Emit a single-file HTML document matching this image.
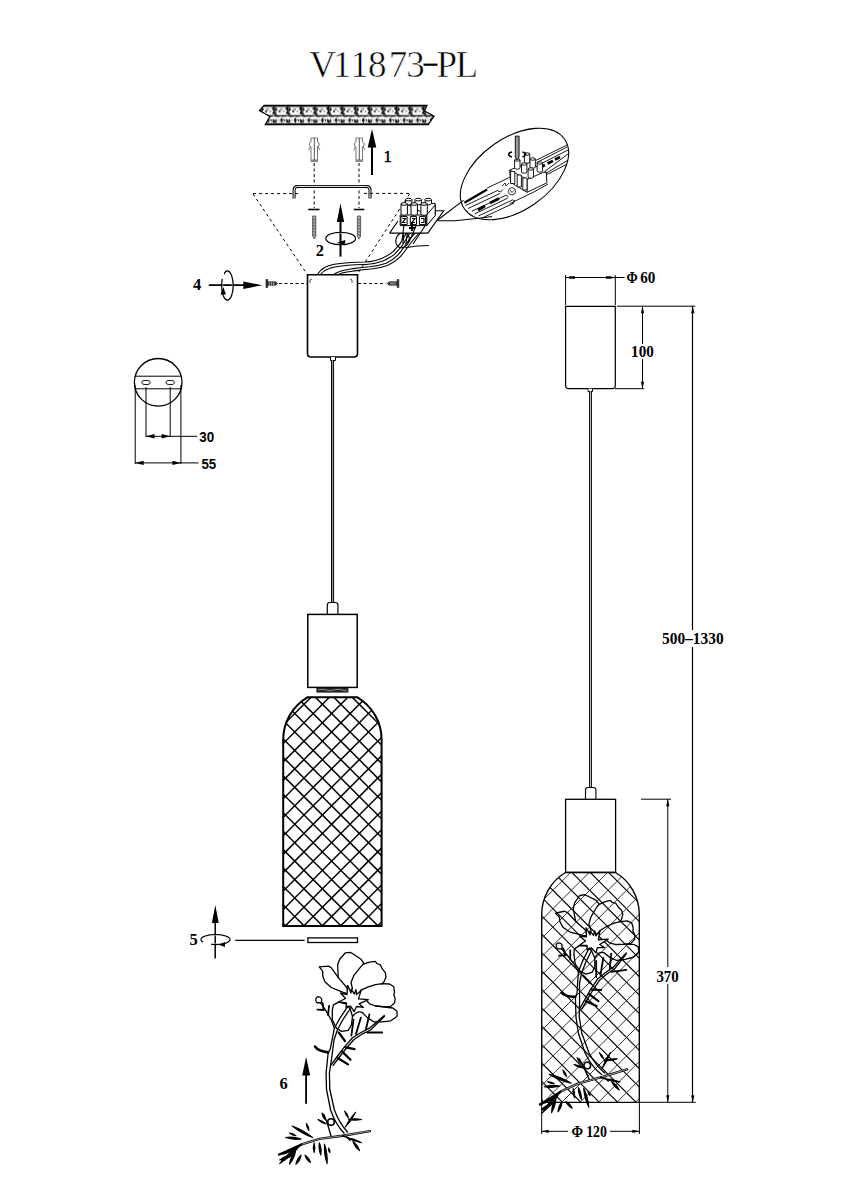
<!DOCTYPE html><html><head><meta charset="utf-8"><style>
html,body{margin:0;padding:0;background:#fff;width:848px;height:1200px;overflow:hidden}
svg{position:absolute;left:0;top:0;display:block}
text{font-family:"Liberation Sans",sans-serif}
.sr,.dimt text{font-family:"Liberation Serif",serif}
</style></head><body>
<svg width="848" height="1200" viewBox="0 0 848 1200">
<defs>

<clipPath id="cl"><path d="M307.40,697.3 L357.40,697.3 A49.20,49.20 0 0 1 381.6,739.67 L381.6,926.0 L283.2,926.0 L283.2,739.67 A49.20,49.20 0 0 1 307.40,697.3 Z"/></clipPath>
<clipPath id="cr"><path d="M565.50,872.5 L615.50,872.5 A48.80,48.80 0 0 1 639.3,914.41 L639.3,1102.3 L541.7,1102.3 L541.7,914.41 A48.80,48.80 0 0 1 565.50,872.5 Z"/></clipPath>
<clipPath id="crf"><rect x="500" y="850" width="300" height="320"/></clipPath>
<marker id="ah" viewBox="0 0 10 10" refX="10" refY="5" markerWidth="10" markerHeight="10" orient="auto" markerUnits="userSpaceOnUse"><path d="M0,2 L10,5 L0,8 Z" fill="#000"/></marker>
</defs>
<rect width="848" height="1200" fill="#fff"/>

<text class="sr" x="322.5" y="76.6" font-size="37" text-anchor="middle" fill="#000" stroke="#fff" stroke-width="0.6">V</text><text class="sr" x="341.9" y="76.6" font-size="37" text-anchor="middle" fill="#000" stroke="#fff" stroke-width="0.6">1</text><text class="sr" x="359.6" y="76.6" font-size="37" text-anchor="middle" fill="#000" stroke="#fff" stroke-width="0.6">1</text><text class="sr" x="377.2" y="76.6" font-size="37" text-anchor="middle" fill="#000" stroke="#fff" stroke-width="0.6">8</text><text class="sr" x="397.9" y="76.6" font-size="37" text-anchor="middle" fill="#000" stroke="#fff" stroke-width="0.6">7</text><text class="sr" x="415.6" y="76.6" font-size="37" text-anchor="middle" fill="#000" stroke="#fff" stroke-width="0.6">3</text><rect x="423.5" y="63.6" width="14" height="2.2" fill="#000"/><text class="sr" x="446.8" y="76.6" font-size="37" text-anchor="middle" fill="#000" stroke="#fff" stroke-width="0.6">P</text><text class="sr" x="466.8" y="76.6" font-size="37" text-anchor="middle" fill="#000" stroke="#fff" stroke-width="0.6">L</text>
<!-- ceiling band -->
<defs>
<pattern id="conc" patternUnits="userSpaceOnUse" width="13.6" height="19" x="261" y="105.4">
<rect width="13.6" height="19" fill="#fff"/>
<path d="M0,0 H13.6 V1.5 H0 Z M0,17.8 H13.6 V19 H0 Z" fill="#111"/>
<path d="M0.5,1 L3,4 L1,6.5 L2.5,9 L0,10 Z M13,1 L10.5,3 L12.5,5.5 L11,8.5 L13.6,9 L13.6,1 Z" fill="#111"/>
<path d="M2,9.5 C4,10.2 6,9.4 8,9.8 C10,9.4 12,10.2 13.6,9.8 L13.6,10.8 C12,11.5 10,11 8.5,11.8 L7,11 C5,11.8 3,11 2,11.8 L0,10.8 L0,9.8 Z" fill="#111"/><path d="M4,4.5 l2,1 l-1,2 z M9,13.5 l2,1 l-1,2 z" fill="#111"/>
<path d="M7,12 L8.5,14.5 L7.5,17.8 L5.5,15 Z M1,13 L2.5,15.5 L1,17.8 L0,17 Z M12,13 L13.6,15 L13.6,17.8 L11.5,16.5 Z" fill="#111"/>
<path d="M5.5,3 l1,1.5 l1.5,-1 M4,6 l2,0.5 M8.5,6.5 l1.5,-1 M3.5,14 l1,1 M9.5,14 l1,1.2" stroke="#111" stroke-width="0.9" fill="none"/>
</pattern>
</defs>
<path d="M264.1,105.4 L426.9,105.4 L424.5,111 L434,116.2 L428.1,124.6 L265.3,124.6 L269.9,116.5 L259.5,110.5 Z" fill="url(#conc)" stroke="#000" stroke-width="1.3"/>
<!-- anchors -->
<g stroke="#777" stroke-width="1" fill="#fff">
<path d="M311,138 h6.5 v4 l1.5,1 v3 l-1.5,1 v13 h-6.5 v-13 l-1.5,-1 v-3 l1.5,-1 z"/>
<line x1="314.3" y1="138" x2="314.3" y2="161" stroke="#555"/>
<path d="M308.5,150 l2.5,-4 M320,150 l-2.5,-4" />
<path d="M356,138 h6.5 v4 l1.5,1 v3 l-1.5,1 v13 h-6.5 v-13 l-1.5,-1 v-3 l1.5,-1 z"/>
<line x1="359.3" y1="138" x2="359.3" y2="161" stroke="#555"/>
<path d="M353.5,150 l2.5,-4 M365,150 l-2.5,-4"/>
</g>
<rect x="310.5" y="160" width="7.5" height="2" fill="#888"/>
<rect x="355.5" y="160" width="7.5" height="2" fill="#888"/>

<!-- arrow 1 -->
<line x1="372" y1="145" x2="372" y2="175" stroke="#000" stroke-width="2"/>
<path d="M372,129 L376.3,147.5 L367.7,147.5 Z" fill="#000"/>
<text class="sr" x="383.6" y="162" font-size="16.5" fill="#000" stroke="#000" stroke-width="0.5">1</text>

<!-- dashed vertical lines -->
<g stroke="#000" stroke-width="1" stroke-dasharray="3,2.5">
<line x1="314.2" y1="163" x2="314.2" y2="208"/>
<line x1="359" y1="163" x2="359" y2="208"/>
</g>
<g stroke="#000" stroke-width="1.6">
<line x1="308.3" y1="209.5" x2="319.5" y2="209.5"/>
<line x1="353.8" y1="209.5" x2="364.3" y2="209.5"/>
</g>

<!-- bracket -->
<path d="M294.1,198.5 V190 Q294.1,186.4 297.7,186.4 H366.4 Q370,186.4 370,190 V198.5" fill="none" stroke="#000" stroke-width="3"/>
<path d="M294.1,198.5 V190 Q294.1,186.4 297.7,186.4 H366.4 Q370,186.4 370,190 V198.5" fill="none" stroke="#fff" stroke-width="1"/>

<!-- dashed trapezoid -->
<g stroke="#000" stroke-width="1" stroke-dasharray="3,3" fill="none">
<path d="M253.1,193.6 H300.6 M364.1,193.4 H410.6"/>
<path d="M253.1,194 L306.8,273.8"/>
<path d="M409.5,194 L357.5,273.8"/>
</g>

<!-- screws -->
<g fill="#aaa" stroke="#444" stroke-width="0.8">
<path d="M312.6,216 h3.2 v20 l-1.6,3 l-1.6,-3 z"/>
<path d="M357.4,216 h3.2 v20 l-1.6,3 l-1.6,-3 z"/>
</g>
<g stroke="#333" stroke-width="0.6">
<path d="M312.6,219 l3.2,1.5 M312.6,222 l3.2,1.5 M312.6,225 l3.2,1.5 M312.6,228 l3.2,1.5 M312.6,231 l3.2,1.5 M312.6,234 l3.2,1.5"/>
<path d="M357.4,219 l3.2,1.5 M357.4,222 l3.2,1.5 M357.4,225 l3.2,1.5 M357.4,228 l3.2,1.5 M357.4,231 l3.2,1.5 M357.4,234 l3.2,1.5"/>
</g>

<!-- arrow 2 -->
<line x1="340.5" y1="218" x2="340.5" y2="256.6" stroke="#000" stroke-width="2"/>
<path d="M340.5,203.6 L344.2,222 L336.8,222 Z" fill="#000"/>
<ellipse cx="340.7" cy="238.5" rx="14.8" ry="6.2" fill="none" stroke="#000" stroke-width="1.3"/>
<ellipse cx="340.7" cy="238.5" rx="13.8" ry="5.2" fill="none" stroke="#fff" stroke-width="0.5"/>
<path d="M337,242.5 L345.5,240 L344.5,245.5 Z" fill="#000"/>
<text class="sr" x="315.8" y="256" font-size="16.5" font-weight="bold" fill="#000">2</text>

<!-- wires -->
<g fill="none" stroke="#000" stroke-width="1.1">
<path d="M317.8,274 C320,270 326,266 334.3,264.3 C345,262.5 355,262.2 365,262 C372,261.5 378,260 381.5,258.4 C387,256 391,253.5 393.3,251.4 C396,248 398.5,246 400.4,243.1 C403,239 405.5,235 407.5,231.3 L412.2,219.5"/>
<path d="M320.5,274.5 C323,271 328.5,268 336,266.8 C347,265 357,264.8 366,264.5 C373,264 379,262.5 383,261 C388,258.5 392.5,256 395,253.8 C398,250.5 400.5,248 402.5,245 C405,241 407.5,237 409.8,233 L414.6,221"/>
<path d="M334.3,274 C339,271 344,270 350.8,269 C358,268 364,267 369.7,266.7 C376,266 381,265 386.2,263.2 C391,261 395,258 398,254.9 C401,251.5 403,248.5 405.1,245.5 C408,241 411,237.5 414.5,233.7 L424,221.9"/>
<path d="M337,275 C341.5,272.5 346,272 352.5,271.2 C359,270.3 365,269.3 371,269 C377.5,268.5 382.5,267.3 387.5,265.5 C393,263 397,260 400.3,256.7 C403,253.5 405.5,250.5 407.5,247.5 C410.5,243 413.5,239.5 417,235.5 L426,224"/>
<path d="M405.1,247.8 C412,246.5 420,245.5 428.7,245.5"/>
<path d="M403,244 L404,226 M406,244 L408,226"/>
</g>
<ellipse cx="402.5" cy="240" rx="6.5" ry="8" fill="none" stroke="#000" stroke-width="1.1" transform="rotate(25 402.5 240)"/>
<!-- terminal block -->
<path d="M389.6,233.1 L427.8,233.1 L443.7,210.8 L435.5,210.8 M389.6,233.1 L398,221" fill="#fff" stroke="#000" stroke-width="1.1"/>
<g fill="#fff" stroke="#000" stroke-width="1">
<path d="M405.5,203.4 L435.2,203.4 L435.2,215 L426.7,225.6 L426.7,215 Z"/>
<path d="M405.5,199.6 v4 a3.2,1.3 0 0 0 6.4,0 v-4"/><ellipse cx="408.7" cy="199.6" rx="3.2" ry="1.3"/>
<path d="M415,199.6 v4 a3.2,1.3 0 0 0 6.4,0 v-4"/><ellipse cx="418.2" cy="199.6" rx="3.2" ry="1.3"/>
<path d="M425.1,199.6 v4 a3.2,1.3 0 0 0 6.4,0 v-4"/><ellipse cx="428.3" cy="199.6" rx="3.2" ry="1.3"/>
<path d="M426.7,215 L435.2,205 L435.2,215.5 L426.7,225.6 Z"/>
<path d="M400.2,215 H426.7 V225.6 H400.2 Z"/>
<path d="M401,204 v10 a3.2,1.3 0 0 0 6.4,0 v-10"/><ellipse cx="404.2" cy="204" rx="3.2" ry="1.3"/>
<path d="M411,204 v10 a3.2,1.3 0 0 0 6.4,0 v-10"/><ellipse cx="414.2" cy="204" rx="3.2" ry="1.3"/>
<path d="M420.9,204 v10 a3.2,1.3 0 0 0 6.4,0 v-10"/><ellipse cx="424.1" cy="204" rx="3.2" ry="1.3"/>
<path d="M400.9,216.6 h6.2 v8 h-6.2 z M410.3,216.6 h6.2 v8 h-6.2 z M419.4,216.6 h6.2 v8 h-6.2 z"/>
</g>
<path d="M402.5,218.5 l3,0 l-3,4 h3 M412,218.5 h3 l-3,4 h3 M421,218.5 h3 v4 h-3" fill="none" stroke="#000" stroke-width="1.2"/>
<path d="M412,222 v9 M409,228 h6" stroke="#000" stroke-width="2"/>
<g stroke="#000" stroke-width="1.1" fill="none">
<path d="M404,225 L402,240 M416,226 L409,242 M425,226 L413,244"/>
</g>
<!-- magnifier -->
<defs><clipPath id="mag"><ellipse cx="514.5" cy="174" rx="61" ry="36" transform="rotate(-35 514.5 174)"/></clipPath></defs>
<g fill="none" stroke="#000" stroke-width="1.1">
<path d="M437.3,220.3 L463.5,200.4"/>
<path d="M437.3,220.8 L455,220.7 L483.3,217.8 L492,216.5"/>
</g>
<g clip-path="url(#mag)">
<g stroke="#000" stroke-width="0.9" fill="none">
<path d="M535.9,160.4 L570,143.5 M536.5,162.7 L570,145.5 M537.1,165.7 L570,149 M545.3,171 L570,152.5 M545.9,173.3 L570,159 M547.1,174.5 L570,162.5 M546.5,172 V181"/>
<path d="M487.1,188.1 L509.7,177.3 M509.7,203.7 L535,191.4 L548,184"/>
<path d="M465.4,205.6 L497.5,190.5 M468,208.5 L500,193.5 M472,211.2 L505.9,195.2 M474.5,214 L508,198 M478.6,215.9 L512.5,199.9 M481,218.5 L514,203"/>
<path d="M497.5,190.5 L500.5,192 L503,189.5 M505.9,195.2 L508.5,196.8 M512.5,199.9 L515,201 L512,204"/>
</g>
<path d="M464.4,202.7 L487.1,189.5" stroke="#000" stroke-width="2.2"/>
<path d="M478,210 L485,206 M490,203 L499,198.5" stroke="#000" stroke-width="2.6"/>
<path d="M540,167.5 L545,165 M547.5,163.5 L553,160.8 M555,159.5 L560,157" stroke="#000" stroke-width="2.6"/>
<circle cx="512" cy="191.3" r="3.6" fill="none" stroke="#000" stroke-width="0.8"/>
<path d="M510,190 l2,2.5 l2,-2 M502,186 l3,-3 l1,3 l3,-3" fill="none" stroke="#000" stroke-width="0.8"/>
</g>
<ellipse cx="514.5" cy="174" rx="61" ry="36" transform="rotate(-35 514.5 174)" fill="none" stroke="#000" stroke-width="1.1"/>
<!-- inner terminal block -->
<g fill="#fff" stroke="#000" stroke-width="0.9">
<path d="M509.6,170.1 L530,162 L546.4,173.4 L546.9,182.8 L527.1,192.3 L510.6,182.4 Z"/>
<path d="M509.6,170.1 L527,179.5 L546.4,171 M527,179.5 L527.1,192.3"/>
<path d="M510.6,171.5 h4.2 v12 h-4.2 z M517.2,175 h4.2 v12 h-4.2 z M522.8,178 h4.2 v12 h-4.2 z"/>
<path d="M514.6,160 v8 a2.7,1.2 0 0 0 5.4,0 v-8"/><ellipse cx="517.3" cy="160" rx="2.7" ry="1.2"/>
<path d="M524.4,154 v8 a2.7,1.2 0 0 0 5.4,0 v-8"/><ellipse cx="527.1" cy="154" rx="2.7" ry="1.2"/>
<path d="M530,159 v8 a2.7,1.2 0 0 0 5.4,0 v-8"/><ellipse cx="532.7" cy="159" rx="2.7" ry="1.2"/>
<path d="M537.1,163 v8 a2.7,1.2 0 0 0 5.4,0 v-8"/><ellipse cx="539.8" cy="163" rx="2.7" ry="1.2"/>
<path d="M521.5,164 v8 a2.7,1.2 0 0 0 5.4,0 v-8"/><ellipse cx="524.2" cy="164" rx="2.7" ry="1.2"/>
<path d="M528.1,169 v8 a2.7,1.2 0 0 0 5.4,0 v-8"/><ellipse cx="530.8" cy="169" rx="2.7" ry="1.2"/>
</g>
<path d="M515.3,136.1 h3.8 v21 l-1.9,3 l-1.9,-3 z" fill="#999" stroke="#000" stroke-width="0.9"/>
<path d="M512,152 C507,153 508,156 512,157 M522.5,152 C527,153 526,156 522.5,157" fill="none" stroke="#000" stroke-width="1.6"/>
<!-- arrow 4 -->
<line x1="208.8" y1="285.1" x2="246" y2="285.1" stroke="#000" stroke-width="1.6"/>
<path d="M262.4,285.2 L243.3,281.6 L243.3,289 Z" fill="#000"/>
<ellipse cx="227.4" cy="285.5" rx="5.7" ry="14.5" fill="none" stroke="#000" stroke-width="1.4"/>
<ellipse cx="227.4" cy="285.5" rx="4.7" ry="13.5" fill="none" stroke="#fff" stroke-width="0.5"/>
<rect x="219" y="271" width="5" height="8" fill="#fff"/>
<path d="M223.3,287 L220.5,294.5 L226,294.5 Z" fill="#000"/>
<text class="sr" x="193" y="289.9" font-size="16.5" font-weight="bold" fill="#000">4</text>

<!-- side screws -->
<g fill="#444" stroke="#111" stroke-width="0.7">
<path d="M266,279.5 v8 h1.6 v-8 z"/>
<path d="M267.6,281.8 h8 l2,1.7 l-2,1.7 h-8 z"/>
<path d="M398.8,279.5 v8 h-1.6 v-8 z"/>
<path d="M397.2,281.8 h-8 l-2,1.7 l2,1.7 h8 z"/>
</g>
<path d="M269.5,281.5 v4 M271.5,281.5 v4 M273.5,281.5 v4 M391,281.5 v4 M393,281.5 v4 M395,281.5 v4" stroke="#ccc" stroke-width="0.6"/>
<g stroke="#000" stroke-width="1" stroke-dasharray="3,2.5">
<line x1="279" y1="283.5" x2="307" y2="283.5"/>
<line x1="358" y1="283.5" x2="386" y2="283.5"/>
</g>

<!-- left canopy -->
<path d="M307.5,274.8 H357.5 V353.5 Q357.5,357 354,357 H311 Q307.5,357 307.5,353.5 Z" fill="#fff" stroke="#000" stroke-width="1.6"/>
<path d="M310,283 v-3 l2,-1 M352,283 v-3 l-2,-1" fill="none" stroke="#000" stroke-width="0.7"/>
<path d="M330.5,357 v3.5 h5 v-3.5" fill="#fff" stroke="#000" stroke-width="1"/>
<!-- left cord -->
<g stroke="#000" stroke-width="1">
<line x1="331.5" y1="360" x2="331.5" y2="603"/>
<line x1="333.6" y1="360" x2="333.6" y2="603"/>
<line x1="332.5" y1="360" x2="332.5" y2="603" stroke="#999"/>
</g>
<!-- connector -->
<path d="M327.3,614 V605 Q327.3,602.5 330,602.5 H335.3 Q337.9,602.5 337.9,605 V614" fill="#fff" stroke="#000" stroke-width="1.2"/>
<!-- shade -->
<rect x="307.8" y="614.4" width="49.4" height="73" fill="#fff" stroke="#000" stroke-width="1.5"/>
<rect x="316.4" y="687.7" width="32" height="4.9" fill="#222"/>
<path d="M318,690 q4,-1.5 8,0 t8,0 t8,0 t5,0" fill="none" stroke="#aaa" stroke-width="0.8"/>

<!-- glass disc & line 5 -->
<rect x="307.9" y="937.9" width="49.6" height="4.6" fill="#fff" stroke="#000" stroke-width="1.3"/>
<line x1="235.3" y1="940.3" x2="304.6" y2="940.3" stroke="#000" stroke-width="1.3"/>
<!-- arrow 5 -->
<line x1="215.2" y1="920" x2="215.2" y2="958.6" stroke="#000" stroke-width="1.5"/>
<path d="M215.3,904.9 L218.7,923.1 L211.9,923.1 Z" fill="#000"/>
<ellipse cx="215.5" cy="939.6" rx="14.5" ry="4.9" fill="none" stroke="#000" stroke-width="1.3"/>
<ellipse cx="215.5" cy="939.6" rx="13.5" ry="3.9" fill="none" stroke="#fff" stroke-width="0.5"/>
<rect x="203" y="942" width="8" height="4" fill="#fff"/>
<path d="M218.5,944.8 L225,942 L225,947 Z" fill="#000"/>
<text class="sr" x="189.6" y="945.4" font-size="16.5" font-weight="bold" fill="#000">5</text>

<!-- arrow 6 -->
<line x1="306.1" y1="1070" x2="306.1" y2="1103.7" stroke="#000" stroke-width="1.8"/>
<path d="M306.1,1057 L310.2,1075.4 L302.2,1075.4 Z" fill="#000"/>
<text class="sr" x="279.6" y="1088.8" font-size="16.5" font-weight="bold" fill="#000">6</text>

<!-- circle dims (left) -->
<g fill="none" stroke="#000" stroke-width="1.3">
<circle cx="158.2" cy="382.3" r="23.8"/>
</g>
<g fill="none" stroke="#000" stroke-width="1">
<line x1="134.8" y1="376.2" x2="181.6" y2="376.2"/>
<line x1="134.8" y1="388.8" x2="181.6" y2="388.8"/>
<ellipse cx="146" cy="382.5" rx="4.2" ry="2.1"/>
<ellipse cx="170.2" cy="382.5" rx="4.2" ry="2.1"/>
<line x1="146" y1="387" x2="146" y2="437"/>
<line x1="170.2" y1="387" x2="170.2" y2="437"/>
<line x1="135.2" y1="385" x2="135.2" y2="464"/>
<line x1="180.9" y1="385" x2="180.9" y2="464"/>
<line x1="146" y1="436.3" x2="197.2" y2="436.3"/>
<line x1="135.2" y1="462.9" x2="198.5" y2="462.9"/>
</g>
<g fill="#000">
<path d="M146,436.3 l8.5,-2.2 v4.4 z M170.2,436.3 l-8.5,-2.2 v4.4 z"/>
<path d="M135.2,462.9 l8.5,-2.2 v4.4 z M180.9,462.9 l-8.5,-2.2 v4.4 z"/>
</g>

<!-- right lamp -->
<g fill="none" stroke="#000" stroke-width="1">
<line x1="565.6" y1="275" x2="565.6" y2="305"/>
<line x1="615.3" y1="275" x2="615.3" y2="305"/>
<line x1="565.7" y1="277.5" x2="624.5" y2="277.5"/>
<line x1="617" y1="306.2" x2="695.3" y2="306.2"/>
<line x1="642.5" y1="306.2" x2="642.5" y2="388.7"/>
<line x1="615" y1="388.7" x2="644.3" y2="388.7"/>
<line x1="692.5" y1="306.2" x2="692.5" y2="1102.3" stroke-width="1.2"/>
<line x1="639.5" y1="1102.3" x2="695.7" y2="1102.3"/>
<line x1="641" y1="799.2" x2="671" y2="799.2"/>
<line x1="667.8" y1="799.2" x2="667.8" y2="1102.3"/>
<line x1="541.7" y1="1102" x2="541.7" y2="1134"/>
<line x1="639.4" y1="1102" x2="639.4" y2="1134"/>
<line x1="541.7" y1="1131.3" x2="639.4" y2="1131.3"/>
</g>
<g fill="#000">
<path d="M566.5,277.5 l4,-1.2 h4.5 v2.4 h-4.5 z M614.5,277.5 l-4,-1.2 h-4.5 v2.4 h4.5 z"/>
<path d="M642.5,306.2 l-1.6,7 h3.2 z M642.5,388.7 l-1.6,-7 h3.2 z"/>
<path d="M692.8,306.2 l-1.6,7 h3.2 z M692.8,1102.3 l-1.6,-7 h3.2 z"/>
<path d="M667.8,799.2 l-1.6,7 h3.2 z M667.8,1102.3 l-1.6,-7 h3.2 z"/>
<path d="M541.7,1131.3 l7,-1.6 v3.2 z M639.4,1131.3 l-7,-1.6 v3.2 z"/>
</g>
<rect x="628" y="344" width="29" height="15" fill="#fff"/>
<rect x="659" y="630" width="66" height="17" fill="#fff"/>
<rect x="654" y="967" width="27" height="17" fill="#fff"/>
<rect x="568" y="1124" width="42" height="15" fill="#fff"/>

<g font-family="Liberation Sans" font-weight="bold" fill="#000" font-size="15.5" lengthAdjust="spacingAndGlyphs">
<text x="199.2" y="441.9" textLength="14.9" lengthAdjust="spacingAndGlyphs">30</text>
<text x="201.4" y="468.8" textLength="14.8" lengthAdjust="spacingAndGlyphs">55</text>
</g>
<g class="dimt" font-family="Liberation Serif" font-weight="bold" fill="#000" font-size="17">
<text x="626.5" y="283" textLength="11.2" lengthAdjust="spacingAndGlyphs">Φ</text><text x="640.3" y="283" textLength="15.1" lengthAdjust="spacingAndGlyphs">60</text>
<text x="631.1" y="357.2" textLength="22.7" lengthAdjust="spacingAndGlyphs">100</text>
<text x="662.1" y="644" textLength="61.5" lengthAdjust="spacingAndGlyphs">500–1330</text>
<text x="656.4" y="981.6" textLength="22.3" lengthAdjust="spacingAndGlyphs">370</text>
<text x="571.6" y="1137.3" textLength="11.5" lengthAdjust="spacingAndGlyphs">Φ</text><text x="586.2" y="1137.3" textLength="20.8" lengthAdjust="spacingAndGlyphs">120</text>
</g>
<!-- right canopy -->
<path d="M565.6,306.4 H615.3 V385.5 Q615.3,388.7 612.2,388.7 H568.8 Q565.6,388.7 565.6,385.5 Z" fill="#fff" stroke="#000" stroke-width="1.25"/>
<path d="M588,388.7 v3 h4.5 v-3" fill="#fff" stroke="#000" stroke-width="0.9"/>
<g stroke="#000" stroke-width="0.9">
<line x1="589.5" y1="391" x2="589.5" y2="788"/>
<line x1="591.5" y1="391" x2="591.5" y2="788"/>
<line x1="590.5" y1="391" x2="590.5" y2="788" stroke="#aaa"/>
</g>
<path d="M585.5,799.3 V790 Q585.5,787.5 588,787.5 H593.4 Q595.9,787.5 595.9,790 V799.3" fill="#fff" stroke="#000" stroke-width="1.1"/>
<rect x="565.6" y="799.3" width="50" height="73.1" fill="#fff" stroke="#000" stroke-width="1.3"/>

<g clip-path="url(#cl)" stroke="#000" stroke-width="1.5"><line x1="-5.55" y1="690" x2="234.45" y2="930"/><line x1="12.90" y1="690" x2="252.90" y2="930"/><line x1="31.35" y1="690" x2="271.35" y2="930"/><line x1="49.80" y1="690" x2="289.80" y2="930"/><line x1="68.25" y1="690" x2="308.25" y2="930"/><line x1="86.70" y1="690" x2="326.70" y2="930"/><line x1="105.15" y1="690" x2="345.15" y2="930"/><line x1="123.60" y1="690" x2="363.60" y2="930"/><line x1="142.05" y1="690" x2="382.05" y2="930"/><line x1="160.50" y1="690" x2="400.50" y2="930"/><line x1="178.95" y1="690" x2="418.95" y2="930"/><line x1="197.40" y1="690" x2="437.40" y2="930"/><line x1="215.85" y1="690" x2="455.85" y2="930"/><line x1="234.30" y1="690" x2="474.30" y2="930"/><line x1="252.75" y1="690" x2="492.75" y2="930"/><line x1="271.20" y1="690" x2="511.20" y2="930"/><line x1="289.65" y1="690" x2="529.65" y2="930"/><line x1="308.10" y1="690" x2="548.10" y2="930"/><line x1="326.55" y1="690" x2="566.55" y2="930"/><line x1="345.00" y1="690" x2="585.00" y2="930"/><line x1="363.45" y1="690" x2="603.45" y2="930"/><line x1="381.90" y1="690" x2="621.90" y2="930"/><line x1="400.35" y1="690" x2="640.35" y2="930"/><line x1="418.80" y1="690" x2="658.80" y2="930"/></g><g clip-path="url(#cl)" stroke="#000" stroke-width="1.5"><line x1="244.45" y1="690" x2="4.45" y2="930"/><line x1="262.90" y1="690" x2="22.90" y2="930"/><line x1="281.35" y1="690" x2="41.35" y2="930"/><line x1="299.80" y1="690" x2="59.80" y2="930"/><line x1="318.25" y1="690" x2="78.25" y2="930"/><line x1="336.70" y1="690" x2="96.70" y2="930"/><line x1="355.15" y1="690" x2="115.15" y2="930"/><line x1="373.60" y1="690" x2="133.60" y2="930"/><line x1="392.05" y1="690" x2="152.05" y2="930"/><line x1="410.50" y1="690" x2="170.50" y2="930"/><line x1="428.95" y1="690" x2="188.95" y2="930"/><line x1="447.40" y1="690" x2="207.40" y2="930"/><line x1="465.85" y1="690" x2="225.85" y2="930"/><line x1="484.30" y1="690" x2="244.30" y2="930"/><line x1="502.75" y1="690" x2="262.75" y2="930"/><line x1="521.20" y1="690" x2="281.20" y2="930"/><line x1="539.65" y1="690" x2="299.65" y2="930"/><line x1="558.10" y1="690" x2="318.10" y2="930"/><line x1="576.55" y1="690" x2="336.55" y2="930"/><line x1="595.00" y1="690" x2="355.00" y2="930"/><line x1="613.45" y1="690" x2="373.45" y2="930"/><line x1="631.90" y1="690" x2="391.90" y2="930"/><line x1="650.35" y1="690" x2="410.35" y2="930"/><line x1="668.80" y1="690" x2="428.80" y2="930"/></g>
<path d="M307.40,697.3 L357.40,697.3 A49.20,49.20 0 0 1 381.6,739.67 L381.6,926.0 L283.2,926.0 L283.2,739.67 A49.20,49.20 0 0 1 307.40,697.3 Z" fill="none" stroke="#000" stroke-width="2"/>
<g clip-path="url(#cr)" stroke="#000" stroke-width="1.15"><line x1="270.00" y1="865" x2="510.00" y2="1105"/><line x1="288.40" y1="865" x2="528.40" y2="1105"/><line x1="306.80" y1="865" x2="546.80" y2="1105"/><line x1="325.20" y1="865" x2="565.20" y2="1105"/><line x1="343.60" y1="865" x2="583.60" y2="1105"/><line x1="362.00" y1="865" x2="602.00" y2="1105"/><line x1="380.40" y1="865" x2="620.40" y2="1105"/><line x1="398.80" y1="865" x2="638.80" y2="1105"/><line x1="417.20" y1="865" x2="657.20" y2="1105"/><line x1="435.60" y1="865" x2="675.60" y2="1105"/><line x1="454.00" y1="865" x2="694.00" y2="1105"/><line x1="472.40" y1="865" x2="712.40" y2="1105"/><line x1="490.80" y1="865" x2="730.80" y2="1105"/><line x1="509.20" y1="865" x2="749.20" y2="1105"/><line x1="527.60" y1="865" x2="767.60" y2="1105"/><line x1="546.00" y1="865" x2="786.00" y2="1105"/><line x1="564.40" y1="865" x2="804.40" y2="1105"/><line x1="582.80" y1="865" x2="822.80" y2="1105"/><line x1="601.20" y1="865" x2="841.20" y2="1105"/><line x1="619.60" y1="865" x2="859.60" y2="1105"/><line x1="638.00" y1="865" x2="878.00" y2="1105"/><line x1="656.40" y1="865" x2="896.40" y2="1105"/><line x1="674.80" y1="865" x2="914.80" y2="1105"/></g><g clip-path="url(#cr)" stroke="#333" stroke-width="1.0"><line x1="504.60" y1="865" x2="264.60" y2="1105"/><line x1="523.00" y1="865" x2="283.00" y2="1105"/><line x1="541.40" y1="865" x2="301.40" y2="1105"/><line x1="559.80" y1="865" x2="319.80" y2="1105"/><line x1="578.20" y1="865" x2="338.20" y2="1105"/><line x1="596.60" y1="865" x2="356.60" y2="1105"/><line x1="615.00" y1="865" x2="375.00" y2="1105"/><line x1="633.40" y1="865" x2="393.40" y2="1105"/><line x1="651.80" y1="865" x2="411.80" y2="1105"/><line x1="670.20" y1="865" x2="430.20" y2="1105"/><line x1="688.60" y1="865" x2="448.60" y2="1105"/><line x1="707.00" y1="865" x2="467.00" y2="1105"/><line x1="725.40" y1="865" x2="485.40" y2="1105"/><line x1="743.80" y1="865" x2="503.80" y2="1105"/><line x1="762.20" y1="865" x2="522.20" y2="1105"/><line x1="780.60" y1="865" x2="540.60" y2="1105"/><line x1="799.00" y1="865" x2="559.00" y2="1105"/><line x1="817.40" y1="865" x2="577.40" y2="1105"/><line x1="835.80" y1="865" x2="595.80" y2="1105"/><line x1="854.20" y1="865" x2="614.20" y2="1105"/><line x1="872.60" y1="865" x2="632.60" y2="1105"/><line x1="891.00" y1="865" x2="651.00" y2="1105"/><line x1="909.40" y1="865" x2="669.40" y2="1105"/></g>
<path d="M565.50,872.5 L615.50,872.5 A48.80,48.80 0 0 1 639.3,914.41 L639.3,1102.3 L541.7,1102.3 L541.7,914.41 A48.80,48.80 0 0 1 565.50,872.5 Z" fill="none" stroke="#000" stroke-width="1.35"/>
<g id="fl1"><g fill="none" stroke="#000" stroke-width="1.3" stroke-linejoin="round" stroke-linecap="round">
<!-- left petal -->
<path d="M319.2,966.9 L328.4,966.2 L331.2,967.6 L338.3,977.6 L346.8,987.5 L348.2,993.8 L343.3,992.4 L338.3,990.3 L331.2,987.5 L324.9,981.8 L322.7,976.1 L322.7,971.2 Z"/>
<!-- top petal -->
<path d="M338.3,977.6 L337.6,964.8 L339.7,959.2 L345.4,952.8 L350.3,952.4 L352.5,953.5 L361,959.2 L363.8,963.4 M363.8,963.4 L360.1,967.6 L353.9,975.4 L351,982.5 L352.5,988.9"/>
<!-- upper-right petal -->
<path d="M363.4,964.2 L369.7,962.1 L375.4,961.4 L376.8,963.5 L380.3,964.9 L382.5,969.2 L385.3,972.7 L386,976.9 L383.9,981.9 L381.8,984"/>
<!-- right-middle petal -->
<path d="M360.5,990.4 L368.3,986.8 L375.4,984.7 L382.5,983.7 L389.5,984 L393.8,986.8 L394.5,991.8 L393.8,994.6 L395.2,998.9 L394.5,1003.1 L390.2,1006.7 L382.5,1006.7 L375.4,1006 L369.7,1003.8 L366.9,1001"/>
<!-- lower-right petal -->
<path d="M375.8,1005.9 L384.3,1007 L392.8,1008 L397,1011.2 L397,1016.5 L390.7,1020.8 L382.2,1021.8 L373.7,1021.8 L367.3,1017.6 L363.1,1013.4"/>
<!-- lower-left petal -->
<path d="M333.4,1004.9 L338.7,1002.2 L346.1,1003.8 L350.3,1009.1 L352.5,1016.5 L351.4,1025 L348.2,1030.3 L341.8,1031.4 L336.5,1028.2 L332.3,1019.7 L332.3,1010.2 Z"/>
<path d="M352.5,1016.5 C356,1012 360,1011 363,1013"/>
<!-- star -->
<path d="M347.8,985.4 L351,993 L351.3,989 L354.2,994 L356,989.7 L356.5,994.6 L361.2,990.4 L358.4,998.9 L368.3,999.6 L359.1,1003.8 L363.4,1007.4 L356.5,1006.5 L354.2,1011.6 L350.5,1006 L346,1007.5 L346.5,1003 L338.5,1002 L345.5,998.5 L340.5,993 L347,994.5 Z" fill="#fff"/>
<!-- bud -->
<path d="M316.6,1002.5 C314.5,999 316.5,996.5 319,996.8 C322,997.3 322.5,1000.5 320.8,1003 Z"/>
<!-- main stem -->
<path d="M348.2,1005.9 L340,1018 L334.4,1028.2 L330.2,1049.4 L328.2,1052.4 L326.1,1073 L326.5,1089.5 L330.6,1110 C334,1120 338,1127 344,1133"/>
<path d="M351,1007.5 L343,1019.5 L337.5,1029.5 L334,1040 L331.9,1056.5 L329.4,1073 L329.8,1089.5 L334.4,1110 C338,1120 342,1126 347.5,1132"/>
<!-- bud branch -->
<path d="M320.8,1003 L324.9,1009.1 L331.2,1019.7 L334.4,1028.2"/>
<path d="M322.5,1003 L323.5,1009 M317.4,1009.6 L324,1010 M329.1,1005.9 L328,1015" stroke-width="1.8"/>
<!-- right branch -->
<path d="M331,1064.8 L337.2,1056.5 L344.7,1046.6 L352.5,1037.8 L361,1032.5 L369.4,1028.2 L384.3,1015.5"/>
<path d="M333,1065.5 L339,1057.5 L346.5,1048 L354,1039.5 L362,1034.2 L370.5,1030 L384.3,1016.5"/>
<path d="M367.3,1032.5 L382.2,1032.5 M351.4,1035.6 L353.5,1019.7 M356,1034 L360.9,1017.6 M366,1029 L369.4,1014.4" stroke-width="1.8"/>
<path d="M315,1046.6 C317,1049.5 322,1051.8 328.2,1052.4" stroke-width="2.6"/>
<path d="M345.5,1047.4 L354.6,1049.1 M342.2,1051.6 L350.5,1059.8 M338.1,1058.2 L348,1064.4 M338.7,1032.5 L345,1041" stroke-width="2.2"/>
<!-- base main branch -->
<path d="M369.9,1131.1 L342.6,1135.7 L319.3,1138.9 L302.4,1144.1 L285.6,1151.9 L279.1,1154.5" stroke-width="2.4"/>
<path d="M369.9,1131.1 L342.6,1135.7 L319.3,1138.9 L302.4,1144.1" stroke="#fff" stroke-width="0.6"/>
<g fill="#000" stroke="#000" stroke-width="1.1"><path d="M312.8,1137.6 Q303.5,1129.9 292.1,1125.9 Q301.4,1133.7 312.8,1137.6Z"/><path d="M306.3,1123.3 Q306.3,1127.4 308.9,1130.5 Q308.9,1126.4 306.3,1123.3Z"/><path d="M301.1,1138.9 Q293.5,1136.3 285.6,1137.6 Q293.2,1140.3 301.1,1138.9Z"/><path d="M295.9,1135.7 Q293.1,1133.3 289.5,1133.1 Q292.3,1135.5 295.9,1135.7Z"/><path d="M314.1,1142.8 Q312.5,1147.7 314.1,1152.5 Q315.7,1147.7 314.1,1142.8Z"/><path d="M319.3,1142.8 Q318.3,1149.2 320.8,1155.1 Q321.9,1148.7 319.3,1142.8Z"/><path d="M324.5,1144.1 Q323.8,1154.1 327.1,1163.6 Q327.8,1153.6 324.5,1144.1Z"/><path d="M328.4,1148.0 Q328.0,1150.7 329.9,1152.5 Q330.3,1149.9 328.4,1148.0Z"/><path d="M301.1,1144.1 Q288.8,1152.1 279.7,1163.6 Q292.0,1155.6 301.1,1144.1Z"/><path d="M295.9,1149.3 Q290.7,1155.9 289.5,1164.2 Q294.7,1157.6 295.9,1149.3Z"/><path d="M301.1,1155.1 Q296.8,1158.7 295.9,1164.2 Q300.3,1160.7 301.1,1155.1Z"/><path d="M305.0,1155.1 Q306.3,1159.9 310.5,1162.5 Q309.2,1157.8 305.0,1155.1Z"/><path d="M295.9,1148.0 Q287.4,1149.4 280.4,1154.5 Q288.9,1153.1 295.9,1148.0Z"/><path d="M293.3,1154.5 Q285.8,1155.3 279.7,1159.9 Q287.3,1159.1 293.3,1154.5Z"/><path d="M285.6,1157.1 Q282.6,1158.0 281.7,1161.0 Q284.7,1160.1 285.6,1157.1Z"/><path d="M318.0,1119.5 Q321.3,1122.9 326.0,1124.0 Q322.7,1120.5 318.0,1119.5Z"/><path d="M321.9,1113.0 Q322.3,1116.8 325.1,1119.5 Q324.7,1115.6 321.9,1113.0Z"/><path d="M345.2,1127.2 Q351.7,1120.7 355.6,1112.3 Q349.1,1118.9 345.2,1127.2Z"/><path d="M348.5,1119.5 Q355.0,1120.9 361.5,1119.5 Q355.0,1118.1 348.5,1119.5Z"/><path d="M344.6,1111.0 Q345.4,1115.2 348.5,1118.2 Q347.7,1114.0 344.6,1111.0Z"/><path d="M346.5,1137.6 Q353.5,1141.7 361.5,1142.8 Q354.5,1138.7 346.5,1137.6Z"/><path d="M353.0,1141.5 Q354.8,1147.1 359.5,1150.6 Q357.7,1145.0 353.0,1141.5Z"/></g>
<path d="M331.0,1135.7 L327.7,1124.6 L323.8,1114.3" stroke-width="1.4"/>
<circle cx="331.0" cy="1122.1" r="3.3" stroke-width="1.6"/>
<path d="M342.6,1135.7 L347.8,1137.6 L349.8,1140.2" stroke-width="1.6"/>
</g>
</g>
<g clip-path="url(#crf)"><g transform="translate(592,941.4) rotate(-7.5) translate(-351.9,-999.7)"><g fill="none" stroke="#000" stroke-width="1.3" stroke-linejoin="round" stroke-linecap="round">
<!-- left petal -->
<path d="M319.2,966.9 L328.4,966.2 L331.2,967.6 L338.3,977.6 L346.8,987.5 L348.2,993.8 L343.3,992.4 L338.3,990.3 L331.2,987.5 L324.9,981.8 L322.7,976.1 L322.7,971.2 Z"/>
<!-- top petal -->
<path d="M338.3,977.6 L337.6,964.8 L339.7,959.2 L345.4,952.8 L350.3,952.4 L352.5,953.5 L361,959.2 L363.8,963.4 M363.8,963.4 L360.1,967.6 L353.9,975.4 L351,982.5 L352.5,988.9"/>
<!-- upper-right petal -->
<path d="M363.4,964.2 L369.7,962.1 L375.4,961.4 L376.8,963.5 L380.3,964.9 L382.5,969.2 L385.3,972.7 L386,976.9 L383.9,981.9 L381.8,984"/>
<!-- right-middle petal -->
<path d="M360.5,990.4 L368.3,986.8 L375.4,984.7 L382.5,983.7 L389.5,984 L393.8,986.8 L394.5,991.8 L393.8,994.6 L395.2,998.9 L394.5,1003.1 L390.2,1006.7 L382.5,1006.7 L375.4,1006 L369.7,1003.8 L366.9,1001"/>
<!-- lower-right petal -->
<path d="M375.8,1005.9 L384.3,1007 L392.8,1008 L397,1011.2 L397,1016.5 L390.7,1020.8 L382.2,1021.8 L373.7,1021.8 L367.3,1017.6 L363.1,1013.4"/>
<!-- lower-left petal -->
<path d="M333.4,1004.9 L338.7,1002.2 L346.1,1003.8 L350.3,1009.1 L352.5,1016.5 L351.4,1025 L348.2,1030.3 L341.8,1031.4 L336.5,1028.2 L332.3,1019.7 L332.3,1010.2 Z"/>
<path d="M352.5,1016.5 C356,1012 360,1011 363,1013"/>
<!-- star -->
<path d="M347.8,985.4 L351,993 L351.3,989 L354.2,994 L356,989.7 L356.5,994.6 L361.2,990.4 L358.4,998.9 L368.3,999.6 L359.1,1003.8 L363.4,1007.4 L356.5,1006.5 L354.2,1011.6 L350.5,1006 L346,1007.5 L346.5,1003 L338.5,1002 L345.5,998.5 L340.5,993 L347,994.5 Z" fill="#fff"/>
<!-- bud -->
<path d="M316.6,1002.5 C314.5,999 316.5,996.5 319,996.8 C322,997.3 322.5,1000.5 320.8,1003 Z"/>
<!-- main stem -->
<path d="M348.2,1005.9 L340,1018 L334.4,1028.2 L330.2,1049.4 L328.2,1052.4 L326.1,1073 L326.5,1089.5 L330.6,1110 C334,1120 338,1127 344,1133"/>
<path d="M351,1007.5 L343,1019.5 L337.5,1029.5 L334,1040 L331.9,1056.5 L329.4,1073 L329.8,1089.5 L334.4,1110 C338,1120 342,1126 347.5,1132"/>
<!-- bud branch -->
<path d="M320.8,1003 L324.9,1009.1 L331.2,1019.7 L334.4,1028.2"/>
<path d="M322.5,1003 L323.5,1009 M317.4,1009.6 L324,1010 M329.1,1005.9 L328,1015" stroke-width="1.8"/>
<!-- right branch -->
<path d="M331,1064.8 L337.2,1056.5 L344.7,1046.6 L352.5,1037.8 L361,1032.5 L369.4,1028.2 L384.3,1015.5"/>
<path d="M333,1065.5 L339,1057.5 L346.5,1048 L354,1039.5 L362,1034.2 L370.5,1030 L384.3,1016.5"/>
<path d="M367.3,1032.5 L382.2,1032.5 M351.4,1035.6 L353.5,1019.7 M356,1034 L360.9,1017.6 M366,1029 L369.4,1014.4" stroke-width="1.8"/>
<path d="M315,1046.6 C317,1049.5 322,1051.8 328.2,1052.4" stroke-width="2.6"/>
<path d="M345.5,1047.4 L354.6,1049.1 M342.2,1051.6 L350.5,1059.8 M338.1,1058.2 L348,1064.4 M338.7,1032.5 L345,1041" stroke-width="2.2"/>
<!-- base main branch -->
<path d="M369.9,1131.1 L342.6,1135.7 L319.3,1138.9 L302.4,1144.1 L285.6,1151.9 L279.1,1154.5" stroke-width="2.4"/>
<path d="M369.9,1131.1 L342.6,1135.7 L319.3,1138.9 L302.4,1144.1" stroke="#fff" stroke-width="0.6"/>
<g fill="#000" stroke="#000" stroke-width="1.1"><path d="M312.8,1137.6 Q303.5,1129.9 292.1,1125.9 Q301.4,1133.7 312.8,1137.6Z"/><path d="M306.3,1123.3 Q306.3,1127.4 308.9,1130.5 Q308.9,1126.4 306.3,1123.3Z"/><path d="M301.1,1138.9 Q293.5,1136.3 285.6,1137.6 Q293.2,1140.3 301.1,1138.9Z"/><path d="M295.9,1135.7 Q293.1,1133.3 289.5,1133.1 Q292.3,1135.5 295.9,1135.7Z"/><path d="M314.1,1142.8 Q312.5,1147.7 314.1,1152.5 Q315.7,1147.7 314.1,1142.8Z"/><path d="M319.3,1142.8 Q318.3,1149.2 320.8,1155.1 Q321.9,1148.7 319.3,1142.8Z"/><path d="M324.5,1144.1 Q323.8,1154.1 327.1,1163.6 Q327.8,1153.6 324.5,1144.1Z"/><path d="M328.4,1148.0 Q328.0,1150.7 329.9,1152.5 Q330.3,1149.9 328.4,1148.0Z"/><path d="M301.1,1144.1 Q288.8,1152.1 279.7,1163.6 Q292.0,1155.6 301.1,1144.1Z"/><path d="M295.9,1149.3 Q290.7,1155.9 289.5,1164.2 Q294.7,1157.6 295.9,1149.3Z"/><path d="M301.1,1155.1 Q296.8,1158.7 295.9,1164.2 Q300.3,1160.7 301.1,1155.1Z"/><path d="M305.0,1155.1 Q306.3,1159.9 310.5,1162.5 Q309.2,1157.8 305.0,1155.1Z"/><path d="M295.9,1148.0 Q287.4,1149.4 280.4,1154.5 Q288.9,1153.1 295.9,1148.0Z"/><path d="M293.3,1154.5 Q285.8,1155.3 279.7,1159.9 Q287.3,1159.1 293.3,1154.5Z"/><path d="M285.6,1157.1 Q282.6,1158.0 281.7,1161.0 Q284.7,1160.1 285.6,1157.1Z"/><path d="M318.0,1119.5 Q321.3,1122.9 326.0,1124.0 Q322.7,1120.5 318.0,1119.5Z"/><path d="M321.9,1113.0 Q322.3,1116.8 325.1,1119.5 Q324.7,1115.6 321.9,1113.0Z"/><path d="M345.2,1127.2 Q351.7,1120.7 355.6,1112.3 Q349.1,1118.9 345.2,1127.2Z"/><path d="M348.5,1119.5 Q355.0,1120.9 361.5,1119.5 Q355.0,1118.1 348.5,1119.5Z"/><path d="M344.6,1111.0 Q345.4,1115.2 348.5,1118.2 Q347.7,1114.0 344.6,1111.0Z"/><path d="M346.5,1137.6 Q353.5,1141.7 361.5,1142.8 Q354.5,1138.7 346.5,1137.6Z"/><path d="M353.0,1141.5 Q354.8,1147.1 359.5,1150.6 Q357.7,1145.0 353.0,1141.5Z"/></g>
<path d="M331.0,1135.7 L327.7,1124.6 L323.8,1114.3" stroke-width="1.4"/>
<circle cx="331.0" cy="1122.1" r="3.3" stroke-width="1.6"/>
<path d="M342.6,1135.7 L347.8,1137.6 L349.8,1140.2" stroke-width="1.6"/>
</g>
</g></g>
</svg></body></html>
